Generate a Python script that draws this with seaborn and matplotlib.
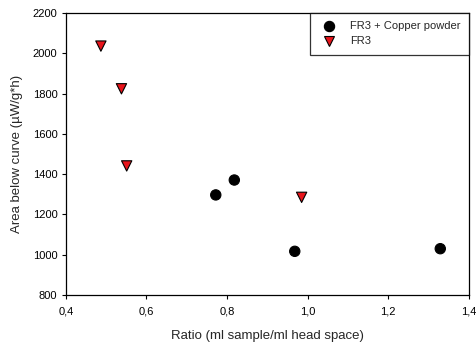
import matplotlib
matplotlib.use("Agg")
import matplotlib.pyplot as plt
from matplotlib.ticker import FuncFormatter
import seaborn as sns
import pandas as pd

# Measurements: ratio of sample volume to head space vs. area below heat-flow curve
copper_ratio = [0.772, 0.818, 0.968, 1.329]
copper_area = [1297, 1371, 1017, 1030]
fr3_ratio = [0.487, 0.538, 0.551, 0.985]
fr3_area = [2036, 1824, 1441, 1285]
series_names = ["FR3 + Copper powder", "FR3"]

df = pd.DataFrame({
    "ratio": copper_ratio + fr3_ratio,
    "area": copper_area + fr3_area,
    "series": [series_names[0]] * len(copper_ratio) + [series_names[1]] * len(fr3_ratio),
})

sns.set_style("white")
plt.rcParams["font.family"] = ["Liberation Sans", "DejaVu Sans"]

fig = plt.figure(figsize=(4.77, 3.44), dpi=100)
ax = fig.add_axes([0.138, 0.1424, 0.845, 0.8196])

sns.scatterplot(
    data=df, x="ratio", y="area", hue="series", style="series",
    hue_order=series_names, style_order=series_names,
    palette={series_names[0]: "black", series_names[1]: "#e8141b"},
    markers={series_names[0]: "o", series_names[1]: "v"},
    s=55, edgecolor="black", linewidth=0.8, ax=ax, legend=True,
)

ax.set_xlim(0.4, 1.4)
ax.set_ylim(800, 2200)
ax.set_xticks([0.4, 0.6, 0.8, 1.0, 1.2, 1.4])
ax.set_yticks(range(800, 2201, 200))
ax.xaxis.set_major_formatter(FuncFormatter(lambda v, p: f"{v:.1f}".replace(".", ",")))
ax.tick_params(axis="both", which="major", direction="out", length=3, width=0.8,
               labelsize=8, colors="black", bottom=True, left=True, top=False, right=False)
ax.tick_params(axis="x", pad=5)
ax.tick_params(axis="y", pad=3)
for sp in ax.spines.values():
    sp.set_color("black")
    sp.set_linewidth(0.9)

ax.set_xlabel("Ratio (ml sample/ml head space)", fontsize=9.5, labelpad=10)
ax.set_ylabel("Area below curve (µW/g*h)", fontsize=9.5, labelpad=7)

leg = ax.legend(loc="upper right", bbox_to_anchor=(1.0, 1.0), frameon=True, fancybox=False,
                fontsize=8, borderaxespad=0, handletextpad=0.9, labelspacing=0.45,
                borderpad=0.75, markerscale=1.0, handlelength=2.0)
leg.get_frame().set_edgecolor("black")
leg.get_frame().set_linewidth(0.9)

fig.savefig("out.png", dpi=100)
